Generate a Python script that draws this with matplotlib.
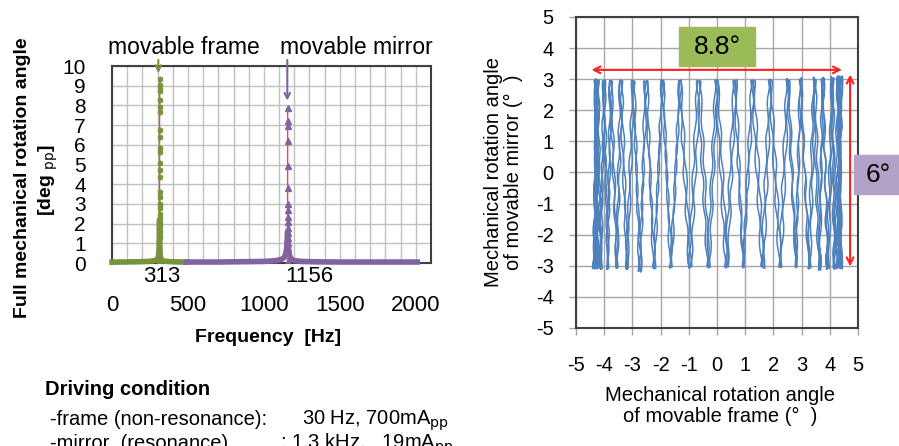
import matplotlib
matplotlib.use("Agg")
import matplotlib.pyplot as plt
from matplotlib.patches import Rectangle

plt.rcParams['font.family'] = ['Liberation Sans', 'DejaVu Sans']
plt.rcParams['axes.unicode_minus'] = False

# frequency response (left)
frame_sweep_f = [0, 40, 80, 120, 160, 200, 240, 280, 300, 306, 309, 311, 312, 313, 314, 315, 317, 320, 326, 340, 380, 420, 460, 490]
frame_sweep_a = [0.04, 0.05, 0.05, 0.06, 0.06, 0.07, 0.08, 0.12, 0.2, 0.35, 0.6, 1.1, 2.0, 2.2, 1.6, 0.9, 0.45, 0.25, 0.15, 0.1, 0.07, 0.06, 0.05, 0.05]
mirror_sweep_f = [490, 600, 700, 800, 900, 1000, 1080, 1120, 1135, 1145, 1150, 1153, 1156, 1159, 1163, 1170, 1180, 1200, 1250, 1350, 1500, 1700, 1900, 2010]
mirror_sweep_a = [0.05, 0.05, 0.05, 0.06, 0.07, 0.08, 0.12, 0.2, 0.3, 0.5, 0.8, 1.2, 1.6, 1.1, 0.6, 0.35, 0.2, 0.12, 0.08, 0.06, 0.05, 0.05, 0.05, 0.05]

frame_peak_f = [313.2, 313.2, 313.1, 313.1, 313.1, 313.0, 313.0, 313.0, 313.0, 313.0, 313.0, 312.9, 312.9, 312.9,
                312.9, 312.9, 312.8, 312.8, 312.8, 312.8, 312.8, 312.7, 312.7, 312.7, 312.6, 312.6, 312.5, 312.5]
frame_peak_a = [9.34, 9.05, 8.92, 8.72, 8.28, 7.91, 7.65, 6.73, 6.39, 5.85, 5.66, 5.07, 4.74, 4.37,
                3.61, 3.36, 3.02, 2.77, 2.51, 2.26, 2.04, 1.84, 1.58, 1.33, 1.08, 0.82, 0.49, 0.05]
mirror_peak_f = [1156.3, 1156.3, 1156.2, 1156.2, 1156.1, 1156.1, 1156.0, 1156.0, 1155.9, 1155.9, 1155.8, 1155.8,
                 1155.7, 1155.7, 1155.6, 1155.6]
mirror_peak_a = [7.85, 7.23, 6.93, 6.19, 4.91, 3.83, 3.02, 2.68, 2.34, 2.09, 1.80, 1.50, 1.25, 1.00, 0.74, 0.05]

# scan pattern (right): turning points of the mirror trace, top / bottom alternating
fwd_x = [-4.32, -4.26, -4.33, -4.24, -4.29, -4.20, -4.27, -4.10, -4.03, -3.86, -3.80, -3.56, -3.44, -3.20,
         -3.00, -2.70, -2.56, -2.20, -1.96, -1.60, -1.34, -0.99, -0.70, -0.34, -0.05, 0.30, 0.60, 0.93,
         1.23, 1.58, 1.85, 2.21, 2.47, 2.80, 2.98, 3.24, 3.42, 3.60, 3.78, 3.90, 4.07, 4.15, 4.28, 4.36,
         4.30, 4.40, 4.34, 4.42]
fwd_y = [2.98, -3.08, 3.00, -3.10, 2.97, -3.05, 2.99, -3.12, 2.95, -3.10, 2.96, -3.08, 2.98, -3.10,
         2.97, -3.20, 2.95, -3.10, 2.98, -3.05, 2.96, -3.08, 2.97, -3.05, 2.99, -3.07, 2.97, -3.06,
         2.98, -3.04, 3.00, -3.06, 3.02, -3.05, 3.05, -3.10, 3.07, -3.15, 3.06, -3.12, 3.08, -3.10,
         3.10, -3.08, 3.10, -3.10, 3.08, -3.07]
bwd_x = [4.40, 4.31, 4.43, 4.26, 4.38, 4.18, 4.12, 3.96, 3.72, 3.66, 3.49, 3.30, 2.94, 2.80,
         2.55, 2.28, 1.92, 1.66, 1.32, 0.92, 0.68, 0.38, 0.03, -0.27, -0.60, -0.92, -1.28, -1.66,
         -1.90, -2.26, -2.47, -2.76, -2.93, -3.18, -3.37, -3.54, -3.74, -3.88, -3.98, -4.14, -4.20, -4.33,
         -4.24, -4.36, -4.28, -4.38]
bwd_y = [3.08, -3.06, 3.10, -3.09, 3.06, -3.11, 3.04, -3.08, 3.03, -3.14, 3.01, -3.09, 2.99, -3.06,
         2.98, -3.05, 2.97, -3.08, 2.96, -3.06, 2.98, -3.04, 2.97, -3.07, 2.96, -3.05, 2.98, -3.08,
         2.97, -3.06, 2.96, -3.18, 2.95, -3.12, 2.97, -3.09, 2.96, -3.12, 2.98, -3.08, 2.99, -3.10,
         2.97, -3.09, 3.00, -3.07]

GREEN = '#77933C'
PURPLE = '#8064A2'
BLUE = '#4F81BD'

fig = plt.figure(figsize=(8.99, 4.46), dpi=100)

# ---------- left chart ----------
ax1 = fig.add_axes([0.1246, 0.4103, 0.3548, 0.4417])
ax1.plot(frame_sweep_f, frame_sweep_a, color=GREEN, lw=4, clip_on=False, zorder=3)
ax1.plot(mirror_sweep_f, mirror_sweep_a, color=PURPLE, lw=4, clip_on=False, zorder=3)
ax1.plot(frame_peak_f, frame_peak_a, color='#FF4040', lw=1, marker=(6, 2, 0), ms=4,
         mec=GREEN, mfc=GREEN, mew=1.2, zorder=4)
ax1.plot(mirror_peak_f, mirror_peak_a, color='#FF4040', lw=1, marker='^', ms=4.5,
         mec=PURPLE, mfc=PURPLE, zorder=4)
ax1.set_xlim(0, 2100)
ax1.set_ylim(0, 10)
ax1.set_xticks([0, 500, 1000, 1500, 2000])
ax1.set_xticks(range(0, 2101, 100), minor=True)
ax1.set_yticks(range(0, 11))
ax1.grid(which='both', color='#C0C0C0', lw=1)
ax1.set_axisbelow(True)
ax1.tick_params(which='both', length=0, labelsize=16)
ax1.tick_params(axis='x', pad=23)
ax1.tick_params(axis='y', pad=19, labelsize=15)
for s in ax1.spines.values():
    s.set_color('#404040')
    s.set_linewidth(1.5)

ax1.text(330, -0.7, '313', fontsize=16, ha='center', va='center')
ax1.text(1140, -0.7, '1156', fontsize=16, ha='left', va='center')
ax1.text(474, 10.93, 'movable frame', fontsize=16.5, ha='center', va='center')
ax1.text(1610, 10.93, 'movable mirror', fontsize=16.5, ha='center', va='center')
ax1.annotate('', xy=(305, 9.5), xytext=(305, 10.45), annotation_clip=False,
             arrowprops=dict(arrowstyle='->', color=GREEN, lw=1.5))
ax1.annotate('', xy=(1154, 8.1), xytext=(1154, 10.45), annotation_clip=False,
             arrowprops=dict(arrowstyle='->', color=PURPLE, lw=1.5))

bold = dict(family=['Liberation Sans Narrow', 'Liberation Sans', 'DejaVu Sans'], weight='bold')
fig.text(23 / 899, 1 - 178 / 446, 'Full mechanical rotation angle', rotation=90,
         ha='center', va='center', fontsize=14, **bold)
fig.text(48 / 899, 1 - 180 / 446, r'[deg $_{\rm pp}$]', rotation=90,
         ha='center', va='center', fontsize=14, **bold)
fig.text(268 / 899, 1 - 338 / 446, 'Frequency  [Hz]', ha='center', va='center',
         fontsize=14, **bold)

# driving conditions
fig.text(45 / 899, 1 - 395 / 446, 'Driving condition', fontsize=14.5, weight='bold', va='baseline')
fig.text(50 / 899, 1 - 425 / 446, '-frame (non-resonance):', fontsize=14.5, va='baseline')
fig.text(302 / 899, 1 - 425 / 446, r'30 Hz, 700mA$_{\rm pp}$', fontsize=14.5, va='baseline')
fig.text(50 / 899, 1 - 449 / 446, '-mirror  (resonance)', fontsize=14.5, va='baseline')
fig.text(280 / 899, 1 - 449 / 446, r': 1.3 kHz,   19mA$_{\rm pp}$', fontsize=14.5, va='baseline')

# ---------- right chart ----------
ax2 = fig.add_axes([0.6407, 0.2646, 0.3137, 0.6973])
for xs, ys in ((fwd_x, fwd_y), (bwd_x, bwd_y)):
    ln, = ax2.plot(xs, ys, color=BLUE, lw=1.1, zorder=3)
    ln.set_sketch_params(scale=0.9, length=45, randomness=2)
ax2.set_xlim(-5, 5)
ax2.set_ylim(-5, 5)
ax2.set_xticks(range(-5, 6))
ax2.set_yticks(range(-5, 6))
ax2.grid(color='#A6A6A6', lw=1)
ax2.set_axisbelow(True)
ax2.tick_params(direction='out', length=5, width=1, color='#A6A6A6', labelsize=14.5)
ax2.tick_params(axis='x', pad=15)
ax2.tick_params(axis='y', pad=11)
for s in ax2.spines.values():
    s.set_color('#404040')
    s.set_linewidth(1.5)

ax2.annotate('', xy=(-4.45, 3.3), xytext=(4.43, 3.3),
             arrowprops=dict(arrowstyle='<->', color='#FF2020', lw=1.5, mutation_scale=12,
                             shrinkA=0, shrinkB=0), zorder=5)
ax2.annotate('', xy=(4.72, 3.15), xytext=(4.72, -3.02),
             arrowprops=dict(arrowstyle='<->', color='#FF2020', lw=1.5, mutation_scale=12,
                             shrinkA=0, shrinkB=0), zorder=5)
ax2.add_patch(Rectangle((-1.35, 3.41), 2.7, 1.27, color='#9BBB59', zorder=6))
ax2.text(0, 4.05, '8.8°', fontsize=19, ha='center', va='center', zorder=7)

fig.patches.append(Rectangle((854 / 899, 1 - 194 / 446), 50 / 899, 39 / 446,
                             transform=fig.transFigure, color='#B3A2C7', zorder=10))
fig.text(878 / 899, 1 - 175 / 446, '6°', fontsize=19, ha='center', va='center', zorder=11)

fig.text(503.5 / 899, 1 - 172 / 446, 'Mechanical rotation angle\nof movable mirror (°  )',
         rotation=90, ha='center', va='center', fontsize=14.5, linespacing=1.1, multialignment='center')
fig.text(720 / 899, 1 - 406 / 446, 'Mechanical rotation angle\nof movable frame (°  )',
         ha='center', va='center', fontsize=14.5, linespacing=1.1, multialignment='center')

fig.savefig('out.png', dpi=100)
